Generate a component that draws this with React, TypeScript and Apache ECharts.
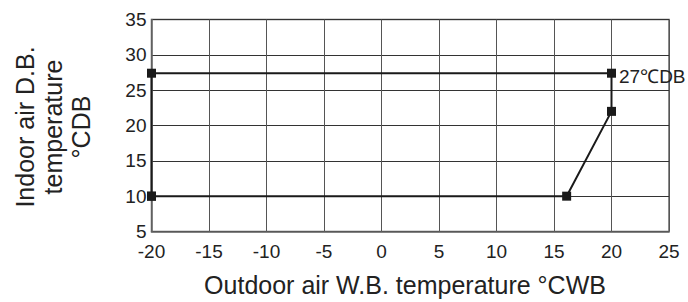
import React, { useEffect, useRef } from "react";
import * as echarts from "echarts";

const xTicks = [-20, -15, -10, -5, 0, 5, 10, 15, 20, 25];
const yTicks = [5, 10, 15, 20, 25, 30, 35];
const outdoorWB = [-20, -20, 20, 20, 16.1, -20];
const indoorDB = [10, 27.4, 27.4, 22, 10, 10];
const pointLabel = "27℃DB";
const labelIndex = 2;
const xTitle = "Outdoor air W.B. temperature °CWB";
const yTitle = "Indoor air D.B.\ntemperature\n°CDB";

const FONT = "'Liberation Sans', Arial, Helvetica, sans-serif";

export default function App() {
  const ref = useRef<HTMLDivElement>(null);
  useEffect(() => {
    if (!ref.current) return;
    const chart = echarts.init(ref.current, undefined, { renderer: "svg" });
    const data = outdoorWB.map((x, i) =>
      i === labelIndex
        ? {
            value: [x, indoorDB[i]],
            label: {
              show: true,
              position: "right",
              distance: 3,
              formatter: pointLabel,
              color: "#222",
              fontSize: 19,
              fontFamily: FONT,
              offset: [0, 3],
            },
          }
        : { value: [x, indoorDB[i]] }
    );
    chart.setOption({
      animation: false,
      grid: { left: 151.5, right: 19, top: 19.5, bottom: 70.5 },
      xAxis: {
        type: "value",
        min: xTicks[0],
        max: xTicks[xTicks.length - 1],
        interval: 5,
        axisLine: { show: true, onZero: false, lineStyle: { color: "#666", width: 1.5 } },
        axisTick: { show: false },
        splitLine: { show: true, lineStyle: { color: "#555", width: 1 } },
        axisLabel: { color: "#222", fontSize: 19, lineHeight: 19, fontFamily: FONT, margin: 10 },
      },
      yAxis: {
        type: "value",
        min: yTicks[0],
        max: yTicks[yTicks.length - 1],
        interval: 5,
        axisLine: { show: true, onZero: false, lineStyle: { color: "#666", width: 1.5 } },
        axisTick: { show: false },
        splitLine: { show: true, lineStyle: { color: "#333", width: 1 } },
        axisLabel: { color: "#222", fontSize: 19, lineHeight: 19, fontFamily: FONT, margin: 5 },
      },
      graphic: [
        {
          type: "rect",
          shape: { x: 151.5, y: 19.5, width: 517.5, height: 212 },
          style: { fill: "none", stroke: "#666", lineWidth: 1.5 },
          silent: true,
          z: -1,
        },
        {
          type: "text",
          x: 405,
          y: 285,
          style: {
            text: xTitle,
            fill: "#222",
            font: `25px ${FONT}`,
            textAlign: "center",
            textVerticalAlign: "middle",
          },
        },
        {
          type: "text",
          x: 53,
          y: 127,
          rotation: Math.PI / 2,
          style: {
            text: yTitle,
            fill: "#222",
            font: `25px ${FONT}`,
            lineHeight: 28,
            textAlign: "center",
            textVerticalAlign: "middle",
          },
        },
      ],
      series: [
        {
          type: "line",
          data,
          symbol: "rect",
          symbolSize: 9,
          itemStyle: { color: "#1a1a1a" },
          lineStyle: { color: "#1a1a1a", width: 2 },
          z: 5,
        },
      ],
    });
    return () => chart.dispose();
  }, []);
  return (
    <div
      ref={ref}
      style={{ position: "fixed", left: 0, top: 0, width: 688, height: 302, background: "#fff" }}
    />
  );
}
